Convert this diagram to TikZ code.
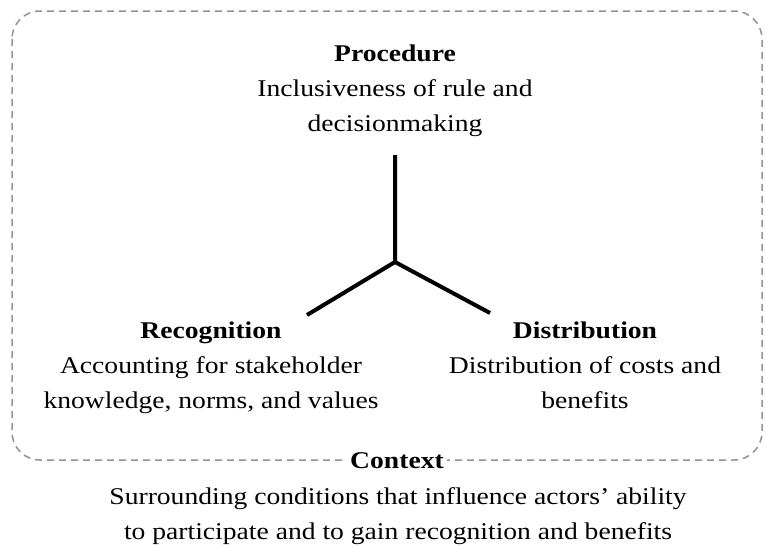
\documentclass[tikz,border=0pt]{standalone}
\usepackage{fontspec}
\setmainfont{Liberation Serif}[FakeStretch=1.15]
\usepackage{tikz}

\begin{document}
\begin{tikzpicture}[x=1pt,y=-1pt,
  blocktext/.style={align=center, inner sep=0pt, anchor=base, font=\fontsize{24}{35}\selectfont},
  frame/.style={draw=gray!85, dash pattern=on 7pt off 5pt, line width=1.5pt, rounded corners=28pt},
  spoke/.style={line width=4pt}]
\useasboundingbox (0,0) rectangle (766,546);
% context frame
\draw [frame] (12,11) rectangle (762,460);
% the three dimensions (base = last line)
\node [blocktext] (proc) at (395,131) {\textbf{Procedure}\\Inclusiveness of rule and\\decisionmaking};
\node [blocktext] (recog) at (211,408) {\textbf{Recognition}\\Accounting for stakeholder\\knowledge, norms, and values};
\node [blocktext] (distr) at (585,408) {\textbf{Distribution}\\Distribution of costs and\\benefits};
% spokes
\coordinate (hub) at (395,262);
\coordinate (top) at (395,155);
\coordinate (left) at (307,315);
\coordinate (right) at (490,313);
\draw [spoke] (top) -- (hub) -- (left);
\draw [spoke] (hub) -- (right);
% context
\node [blocktext, fill=white, inner sep=3pt] (ctx) at (397,468) {\textbf{Context}};
\node [blocktext] (ctxtext) at (398,539) {Surrounding conditions that influence actors’ ability\\to participate and to gain recognition and benefits};
\end{tikzpicture}
\end{document}
